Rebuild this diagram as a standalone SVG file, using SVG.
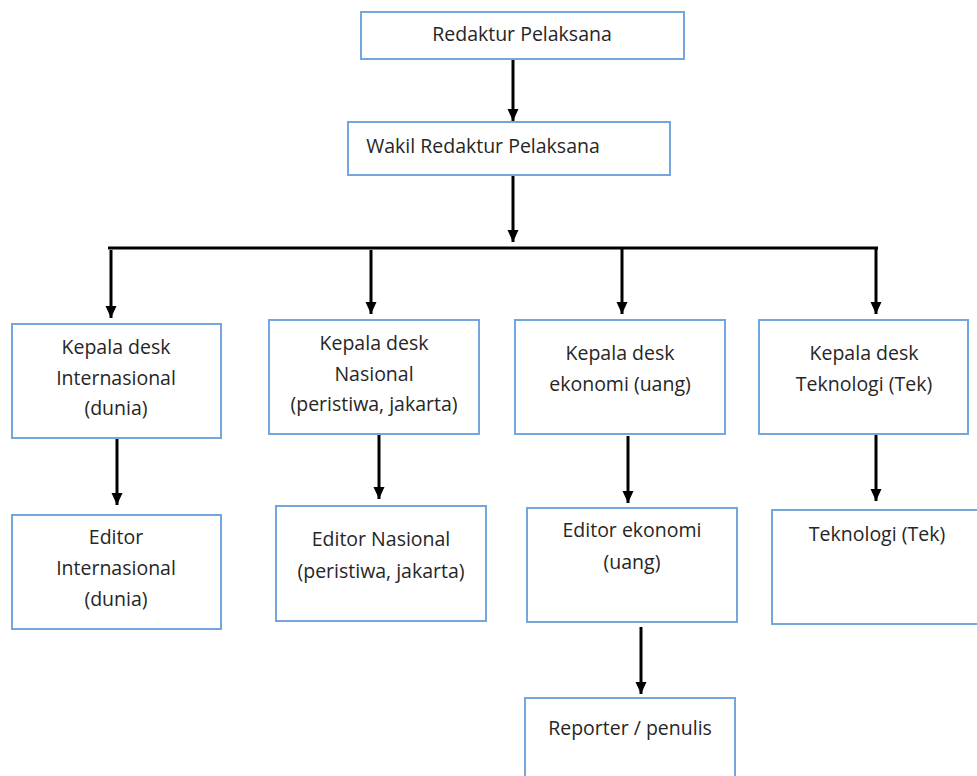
<svg xmlns="http://www.w3.org/2000/svg" width="977" height="776" viewBox="0 0 977 776">
<defs>
<marker id="ah" viewBox="0 0 12 12" refX="12" refY="6" markerWidth="12" markerHeight="12" markerUnits="userSpaceOnUse" orient="auto">
<path d="M0,0.5 L12,6 L0,11.5 z" fill="#000"/>
</marker>
<style>
.box{fill:#fff;stroke:#72a6dc;stroke-width:2}
.t{font-family:"Open Sans","Noto Sans",sans-serif;font-size:19.5px;fill:#262626;text-anchor:middle}
.c{stroke:#000;stroke-width:3;fill:none}
.a{stroke:#000;stroke-width:3;fill:none;marker-end:url(#ah)}
</style>
</defs>
<rect width="977" height="776" fill="#fff"/>
<g id="connectors">
<line class="a" x1="513" y1="59" x2="513" y2="121"/>
<line class="a" x1="513" y1="175" x2="513" y2="242"/>
<line class="c" x1="108" y1="248" x2="878" y2="248"/>
<line class="a" x1="111" y1="250" x2="111" y2="318"/>
<line class="a" x1="371" y1="250" x2="371" y2="314"/>
<line class="a" x1="622" y1="248" x2="622" y2="314"/>
<line class="a" x1="876" y1="248" x2="876" y2="314"/>
<line class="a" x1="117" y1="438" x2="117" y2="505"/>
<line class="a" x1="379" y1="434" x2="379" y2="499"/>
<line class="a" x1="628" y1="436" x2="628" y2="503"/>
<line class="a" x1="876" y1="434" x2="876" y2="501"/>
<line class="a" x1="641" y1="627" x2="641" y2="694"/>
</g>
<g id="n1"><rect class="box" x="361" y="12" width="323" height="47"/><text class="t" x="522" y="41">Redaktur Pelaksana</text></g>
<g id="n2"><rect class="box" x="348" y="122" width="322" height="53"/><text class="t" x="483" y="153">Wakil Redaktur Pelaksana</text></g>
<g id="n3"><rect class="box" x="12" y="324" width="209" height="114"/><text class="t" x="116" y="354">Kepala desk</text><text class="t" x="116" y="385">Internasional</text><text class="t" x="116" y="415">(dunia)</text></g>
<g id="n4"><rect class="box" x="269" y="320" width="210" height="114"/><text class="t" x="374" y="350">Kepala desk</text><text class="t" x="374" y="381">Nasional</text><text class="t" x="374" y="411">(peristiwa, jakarta)</text></g>
<g id="n5"><rect class="box" x="515" y="320" width="210" height="114"/><text class="t" x="620" y="360">Kepala desk</text><text class="t" x="620" y="391">ekonomi (uang)</text></g>
<g id="n6"><rect class="box" x="759" y="320" width="209" height="114"/><text class="t" x="864" y="360">Kepala desk</text><text class="t" x="864" y="391">Teknologi (Tek)</text></g>
<g id="n7"><rect class="box" x="12" y="515" width="209" height="114"/><text class="t" x="116" y="544">Editor</text><text class="t" x="116" y="575">Internasional</text><text class="t" x="116" y="606">(dunia)</text></g>
<g id="n8"><rect class="box" x="276" y="506" width="210" height="115"/><text class="t" x="381" y="546">Editor Nasional</text><text class="t" x="381" y="578">(peristiwa, jakarta)</text></g>
<g id="n9"><rect class="box" x="527" y="508" width="210" height="114"/><text class="t" x="632" y="537">Editor ekonomi</text><text class="t" x="632" y="569">(uang)</text></g>
<g id="n10"><rect class="box" x="772" y="510" width="210" height="114"/><text class="t" x="877" y="541">Teknologi (Tek)</text></g>
<g id="n11"><rect class="box" x="525" y="698" width="210" height="90"/><text class="t" x="630" y="735">Reporter / penulis</text></g>
</svg>
